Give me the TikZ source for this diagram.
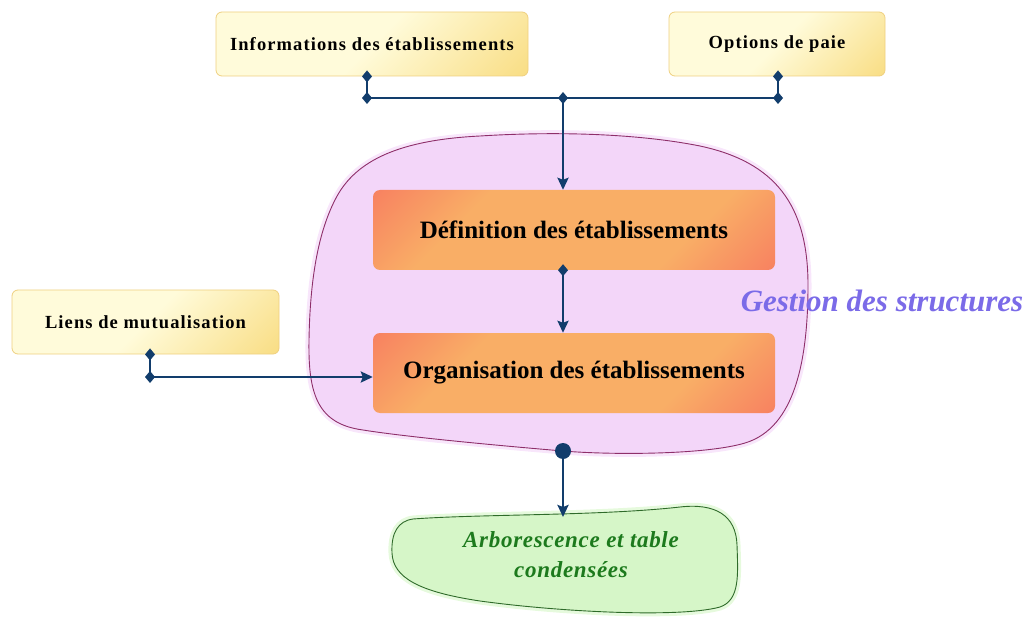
\documentclass[tikz,border=0pt]{standalone}
\usepackage{fontspec}
\setmainfont{Liberation Serif}
\usetikzlibrary{arrows.meta}
\definecolor{navy}{HTML}{123D6C}
\definecolor{ylight}{HTML}{FFFBDA}
\definecolor{ydark}{HTML}{F6D160}
\definecolor{yborder}{HTML}{EFD080}
\definecolor{ored}{HTML}{F65C5C}
\definecolor{oorange}{HTML}{F9AE66}
\definecolor{blobfill}{HTML}{F3D6F9}
\definecolor{blobhalo}{HTML}{F8E6FB}
\definecolor{blobline}{HTML}{8E2F6A}
\definecolor{greenfill}{HTML}{D6F6C8}
\definecolor{greenhalo}{HTML}{E6FADD}
\definecolor{greenline}{HTML}{2F6B2A}
\definecolor{greentext}{HTML}{1D7A1D}
\definecolor{gesttext}{HTML}{7B6BE8}
\pgfdeclarehorizontalshading{yshade}{100bp}{color(0bp)=(ylight); color(50bp)=(ylight); color(100bp)=(ydark)}
\pgfdeclarehorizontalshading{oshade}{100bp}{color(0bp)=(ored); color(32bp)=(oorange); color(68bp)=(oorange); color(100bp)=(ored)}
\tikzset{
  ybox/.style={rounded corners=6pt, draw=yborder, line width=0.8pt, shading=yshade, shading angle=-45,
    font=\bfseries\fontsize{18.5}{22}\selectfont\addfontfeature{LetterSpace=6}, inner sep=0pt, minimum height=64pt},
  obox/.style={rounded corners=7pt, shading=oshade, shading angle=-45,
    font=\bfseries\fontsize{25}{28}\selectfont, inner sep=0pt, minimum width=402pt, minimum height=80pt},
  conn/.style={draw=navy, line width=2.8pt},
  tip/.style={-{Stealth[length=12pt,width=11pt,inset=2pt]}},
}
\newcommand\dmd[1]{\fill[navy] (#1) +(0,6) -- +(5,0) -- +(0,-6) -- +(-5,0) -- cycle;}
\begin{document}
\begin{tikzpicture}[x=1pt,y=-1pt]
\useasboundingbox (0,0) rectangle (1032,617);
% purple blob
\path[fill=blobfill, draw=blobline, line width=0.9pt, preaction={draw=blobhalo, line width=7pt}]
  (363,430) .. controls (318,424) and (308,395) .. (309,340)
  .. controls (310,280) and (318,232) .. (336,198)
  .. controls (356,160) and (400,140) .. (480,136)
  .. controls (560,131) and (640,134) .. (700,146)
  .. controls (775,162) and (808,205) .. (808,285)
  .. controls (808,360) and (795,428) .. (745,443)
  .. controls (705,455) and (610,455) .. (563,451)
  .. controls (480,444) and (400,436) .. (363,430) -- cycle;
% green blob
\path[fill=greenfill, draw=greenline, line width=0.9pt, preaction={draw=greenhalo, line width=7pt}]
  (413,519) .. controls (480,514) and (600,516) .. (680,507)
  .. controls (715,503) and (736,515) .. (737,545)
  .. controls (738,575) and (740,600) .. (720,607)
  .. controls (680,618) and (560,612) .. (480,601)
  .. controls (420,592) and (393,578) .. (392,553)
  .. controls (391,533) and (398,521) .. (413,519) -- cycle;

\node[ybox, minimum width=312pt] (info) at (372,44) {Informations des établissements};
\node[ybox, minimum width=216pt] (opt) at (777,44) {Options de paie};
\node[ybox, minimum width=267pt] (liens) at (145.5,322) {Liens de mutualisation};
\node[obox] (def) at (574,230) {Définition des établissements};
\node[obox] (org) at (574,373) {Organisation des établissements};
\node[font=\bfseries\itshape\fontsize{31}{34}\selectfont, text=gesttext, inner sep=0pt] (gest) at (882,301) {Gestion des structures};
\node[font=\bfseries\itshape\fontsize{23}{30}\selectfont\addfontfeature{LetterSpace=3}, text=greentext, align=center, inner sep=0pt] (arbo) at (571,555) {Arborescence et table\\condensées};

\coordinate (ja) at (367,98);
\coordinate (jb) at (778,98);
\coordinate (jm) at (563,98);
\coordinate (jl) at (150,377);
\coordinate (dot) at (563,451);
\coordinate (arbotop) at (563,517);

\draw[conn] (info.south -| ja) -- (ja) -- (jb) -- (opt.south -| jb);
\draw[conn, tip] (jm) -- (def.north -| jm);
\draw[conn, tip] (def.south -| jm) -- (org.north -| jm);
\draw[conn, tip] (liens.south -| jl) -- (jl) -- (org.west |- jl);
\draw[conn, tip] (dot) -- (arbotop);
\fill[navy] (dot) circle (8);
\dmd{info.south -| ja}
\dmd{ja}
\dmd{jm}
\dmd{jb}
\dmd{opt.south -| jb}
\dmd{def.south -| jm}
\dmd{liens.south -| jl}
\dmd{jl}
\end{tikzpicture}
\end{document}
